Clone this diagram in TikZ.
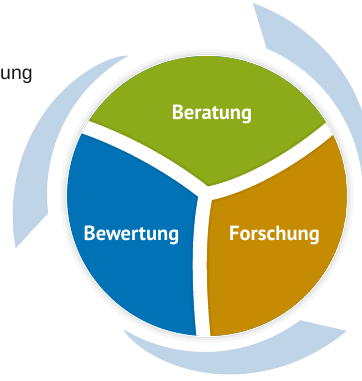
\documentclass[tikz,border=0pt]{standalone}
\usepackage{fontspec}
\setmainfont{Liberation Sans}
\newfontfamily\labelfont{PT Sans}
\usepackage{tikz}
\usetikzlibrary{calc}
\definecolor{beratunggreen}{RGB}{141,171,24}
\definecolor{bewertungblue}{RGB}{2,114,182}
\definecolor{forschungorange}{RGB}{197,139,2}
\definecolor{kreislauf}{RGB}{191,212,231}

\begin{document}
\begin{tikzpicture}[x=1pt, y=1pt,
		feld/.style={font=\labelfont\bfseries\fontsize{20.5}{21}\selectfont, text=white, anchor=base, inner sep=0pt},
		fuge/.style={white, line width=14pt, line cap=round, line join=round}]
			\useasboundingbox (0,0) rectangle (362,381);
			\coordinate (M) at (207,185);
			\coordinate (J) at (206,187);
			% drei Pfeile um die Scheibe
			\foreach \ang in {-1,119,239}
				\fill[kreislauf] ({205+158*cos(\ang)},{187+158*sin(\ang)})
					arc[start angle=\ang, end angle=\ang+68, radius=158]
					-- ({205+197*cos(\ang+77)},{187+197*sin(\ang+77)})
					-- plot[domain=77:0.5, samples=40] ({205+(158+39*(\x/77)^0.7)*cos(\ang+\x)},{187+(158+39*(\x/77)^0.7)*sin(\ang+\x)})
					-- cycle;
			% weicher Schatten
			\fill[black, opacity=0.03] (M) circle (147);
			\fill[black, opacity=0.04] (M) circle (144);
			\fill[black, opacity=0.05] (M) circle (142);
			\fill[white] (M) circle (141);
			\begin{scope}
				\clip (M) circle (140);
				\fill[bewertungblue] (M) circle (140);
				\fill[beratunggreen] (J) .. controls (175,212) and (125,242) .. (70,259) -- (70,340) -- (345,340) -- (345,266) .. controls (290,215) and (235,192) .. (J) -- cycle;
				\fill[forschungorange] (J) .. controls (235,192) and (290,215) .. (345,266) -- (360,266) -- (360,30) -- (205,30) .. controls (196,110) and (200,160) .. (J) -- cycle;
				\draw[black, opacity=0.06, line width=19pt, line cap=round] (J) .. controls (175,212) and (125,242) .. (70,259);
				\draw[black, opacity=0.06, line width=19pt, line cap=round] (J) .. controls (235,192) and (290,215) .. (345,266);
				\draw[black, opacity=0.06, line width=19pt, line cap=round] (J) .. controls (200,160) and (196,110) .. (205,30);
				\draw[fuge] (J) .. controls (175,212) and (125,242) .. (70,259);
				\draw[fuge] (J) .. controls (235,192) and (290,215) .. (345,266);
				\draw[fuge] (J) .. controls (200,160) and (196,110) .. (205,30);
			\end{scope}
			\node[feld] (beratung) at (212,261) {Beratung};
			\node[feld] (bewertung) at (131.5,140) {Bewertung};
			\node[feld] (forschung) at (274.5,140) {Forschung};
			\node[font=\fontsize{19.5}{20}\selectfont, text=black!90, anchor=base west, inner sep=0pt] (ung) at (0,301) {ung};
		\end{tikzpicture}
\end{document}
